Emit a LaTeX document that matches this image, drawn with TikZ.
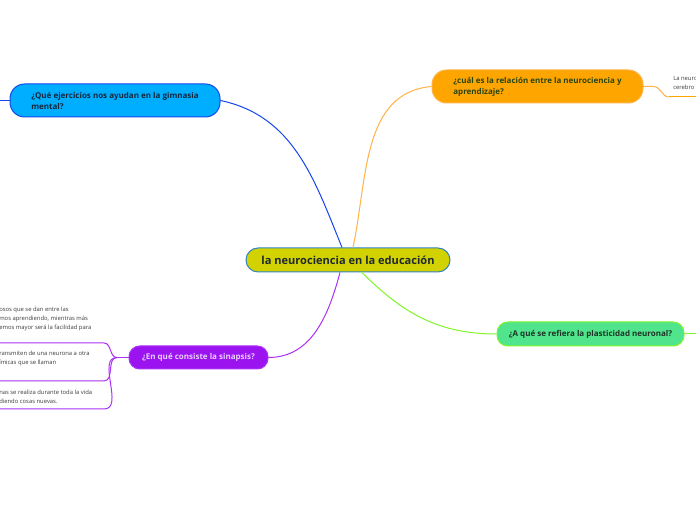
\documentclass[tikz,border=0pt]{standalone}
\usepackage{fontspec}
\setmainfont{Open Sans}
\usetikzlibrary{positioning}
\usepackage{xcolor}
\definecolor{hubfill}{RGB}{210,210,0}
\definecolor{hubline}{RGB}{50,130,200}
\definecolor{gymfill}{RGB}{0,174,255}
\definecolor{gymline}{RGB}{20,70,235}
\definecolor{relfill}{RGB}{255,165,0}
\definecolor{relline}{RGB}{255,178,70}
\definecolor{plafill}{RGB}{80,228,140}
\definecolor{plaline}{RGB}{128,245,40}
\definecolor{synfill}{RGB}{155,20,240}
\definecolor{synline}{RGB}{170,50,245}
\definecolor{leaftext}{RGB}{60,60,60}

\tikzset{
    topic/.style={rounded corners=8pt, line width=0.75pt, align=left,
        font=\fontsize{6}{8.25}\selectfont\bfseries, inner xsep=0pt},
    leaf/.style={anchor=north west, inner sep=0pt, align=left, text=leaftext,
        font=\fontsize{4.4}{6.75}\selectfont},
    link/.style={line width=0.75pt}
}

\begin{document}
\begin{tikzpicture}[x=0.75pt, y=0.75pt]
\fill[white] (0,0) rectangle (696,520);
\useasboundingbox (0,0) rectangle (696,520);

% central idea
\node[draw=hubline, fill=hubfill, line width=0.75pt, rounded corners=9pt,
      minimum width=153pt, minimum height=18pt,
      font=\fontsize{8.3}{10}\selectfont\bfseries, text={rgb,255:red,30;green,40;blue,50}]
      (hub) at (348,260) {la neurociencia en la educación};

% main topics
\node[topic, draw=gymline, fill=gymfill, rounded corners=11pt, text={rgb,255:red,20;green,40;blue,60},
      minimum width=157.5pt, minimum height=24.75pt]
      (gym) at (115,419.5) {¿Qué ejercicios nos ayudan en la gimnasia\\mental?};
\node[topic, draw=relline, fill=relfill, rounded corners=11pt, text={rgb,255:red,40;green,70;blue,20},
      minimum width=158.25pt, minimum height=24.75pt]
      (rel) at (537.5,433.5) {¿cuál es la relación entre la neurociencia y\\aprendizaje?};
\node[topic, draw=plaline, fill=plafill, text={rgb,255:red,30;green,50;blue,40},
      minimum width=140.25pt, minimum height=18pt]
      (pla) at (590.5,186) {¿A qué se refiera la plasticidad neuronal?};
\node[topic, draw=synline, fill=synfill, text={rgb,255:red,232;green,205;blue,255},
      minimum width=104.25pt, minimum height=17.25pt]
      (syn) at (198.5,162.5) {¿En qué consiste la sinapsis?};

% hub connectors
\draw[link, gymline] ([xshift=-4.5pt]hub.north) to[out=112, in=-12] (gym.east);
\draw[link, relline] ([xshift=3.75pt]hub.north) to[out=78, in=185] (rel.west);
\draw[link, plaline] ([xshift=10.5pt]hub.south) to[out=-45, in=180] (pla.west);
\draw[link, synline] ([xshift=-6pt]hub.south) to[out=-105, in=0] (syn.east);

% branches leaving the page
\coordinate (gymout) at (0,419.5);
\coordinate (plaout) at (696,186);
\draw[link, gymline] (gym.west) -- (gymout);
\draw[link, plaline] (pla.east) -- (plaout);

% leaf of the orange topic
\node[leaf] (relleaf) at (673,443.5) {La neuro\\cerebro};
\coordinate (relend) at (669,423);
\draw[link, relline] (rel.east) -- ++(10,0) to[out=0, in=180] (relend);
\draw[link, relfill] (relend) -- (696,423);

% leaves of the synapse topic
\node[leaf] (synA) at (-1,213.5) {osos que se dan entre las\\mos aprendiendo, mientras más\\emos mayor será la facilidad para};
\node[leaf] (synB) at (-1,169.5) {ransmiten de una neurona a otra\\ímicas que se llaman};
\node[leaf] (synC) at (-1,130.5) {nas se realiza durante toda la vida\\diendo cosas nuevas.};
\coordinate (synAend) at (104,177);
\coordinate (synBend) at (104,139);
\coordinate (synCend) at (104,111);
\coordinate (synfork) at (117,162.5);
\draw[link, synline] (syn.west) -- (synfork);
\foreach \e in {synAend, synBend, synCend}
    \draw[link, synline] (synfork) to[out=180, in=0] (\e) -- (0,0 |- \e);
\end{tikzpicture}
\end{document}
